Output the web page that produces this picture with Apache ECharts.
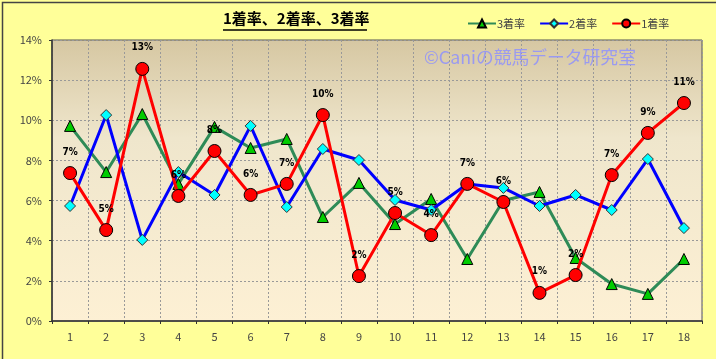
<!DOCTYPE html>
<html><head><meta charset="utf-8">
<script src="https://cdn.jsdelivr.net/npm/echarts@6/dist/echarts.min.js"></script>
<style>html,body{margin:0;padding:0;background:#ffff99;}#c{width:716px;height:359px;}</style>
</head><body><div id="c"></div>
<script>
const categories = ['1','2','3','4','5','6','7','8','9','10','11','12','13','14','15','16','17','18'];
const rate3 = [9.72,7.42,10.31,6.83,9.67,8.62,9.07,5.18,6.88,4.83,6.08,3.09,6.0,6.43,3.14,1.84,1.35,3.09];
const rate2 = [5.73,10.26,4.04,7.42,6.28,9.72,5.68,8.57,8.02,6.03,5.53,6.83,6.63,5.73,6.28,5.53,8.07,4.63];
const rate1 = [7.37,4.53,12.56,6.23,8.47,6.28,6.83,10.26,2.24,5.38,4.28,6.83,5.93,1.40,2.29,7.27,9.37,10.86];
const yTicks = [0,2,4,6,8,10,12,14];

const chart = echarts.init(document.getElementById('c'), null, {renderer:'canvas'});
const font = '"Noto Sans CJK JP", "Liberation Sans", sans-serif';
chart.setOption({
  backgroundColor: '#ffff99',
  textStyle: {fontFamily: font},
  animation: false,
  legend: {
    data: ['3着率','2着率','1着率'],
    left: 462, top: 13,
    itemWidth: 28, itemHeight: 10, itemGap: 14,
    textStyle: {fontSize: 11, color: '#444', padding: [0,0,0,-4]}
  },
  graphic: [
    {type:'rect', left:0, top:0, shape:{width:715, height:358}, style:{fill:'none', stroke:'#444', lineWidth:1.5}, silent:true},
    {type:'text', left:223, top:11, style:{text:'1着率、2着率、3着率', fontSize:15, fontWeight:'bold', fill:'#000', fontFamily:font}},
    {type:'line', shape:{x1:223, y1:30, x2:367, y2:30}, style:{stroke:'#000', lineWidth:1.5}},
    {type:'text', left:424, top:48, z:1, style:{text:'©Caniの競馬データ研究室', fontSize:17.8, fill:'#9a9af0', fontFamily:font}}
  ],
  grid: {
    left: 52, right: 14, top: 40, bottom: 38, show: true,
    borderColor: '#555', borderWidth: 1,
    backgroundColor: new echarts.graphic.LinearGradient(0,0,0,1,[
      {offset:0, color:'#d6c7a2'},{offset:0.35, color:'#efe6cc'},{offset:1, color:'#fdf0d4'}
    ])
  },
  xAxis: {
    type: 'category', data: categories, boundaryGap: true,
    axisLine: {lineStyle:{color:'#333', width:1.5}},
    axisTick: {show:true, length:3, lineStyle:{color:'#333'}},
    axisLabel: {color:'#444', fontSize:11, margin:10},
    splitLine: {show:true, lineStyle:{color:'#999', type:[2,2], width:1}}
  },
  yAxis: {
    type: 'value', min: 0, max: 14, interval: 2,
    axisLine: {show:true, lineStyle:{color:'#333', width:1.5}},
    axisTick: {show:true, length:3, lineStyle:{color:'#333'}},
    axisLabel: {color:'#444', fontSize:11, margin:10, formatter: v => yTicks.includes(v) ? v + '%' : ''},
    splitLine: {show:true, lineStyle:{color:'#999', type:[2,2], width:1}}
  },
  series: [
    {name:'3着率', type:'line', data: rate3, z:2,
     symbol:'triangle', symbolSize:11,
     lineStyle:{color:'#2e8b57', width:3},
     itemStyle:{color:'#00cc00', borderColor:'#000', borderWidth:1}},
    {name:'2着率', type:'line', data: rate2, z:3,
     symbol:'diamond', symbolSize:11,
     lineStyle:{color:'#0000ff', width:3},
     itemStyle:{color:'#00ffff', borderColor:'#333', borderWidth:1}},
    {name:'1着率', type:'line', data: rate1, z:4,
     symbol:'circle', symbolSize:13,
     lineStyle:{color:'#ff0000', width:3},
     itemStyle:{color:'#ff0000', borderColor:'#000', borderWidth:1},
     label:{show:true, position:'top', distance:9, color:'#000', fontSize:10, fontWeight:'bold',
       fontFamily:'"DejaVu Sans Condensed", "DejaVu Sans", sans-serif',
       formatter: p => Math.round(p.value) + '%'}}
  ]
});
</script></body></html>
